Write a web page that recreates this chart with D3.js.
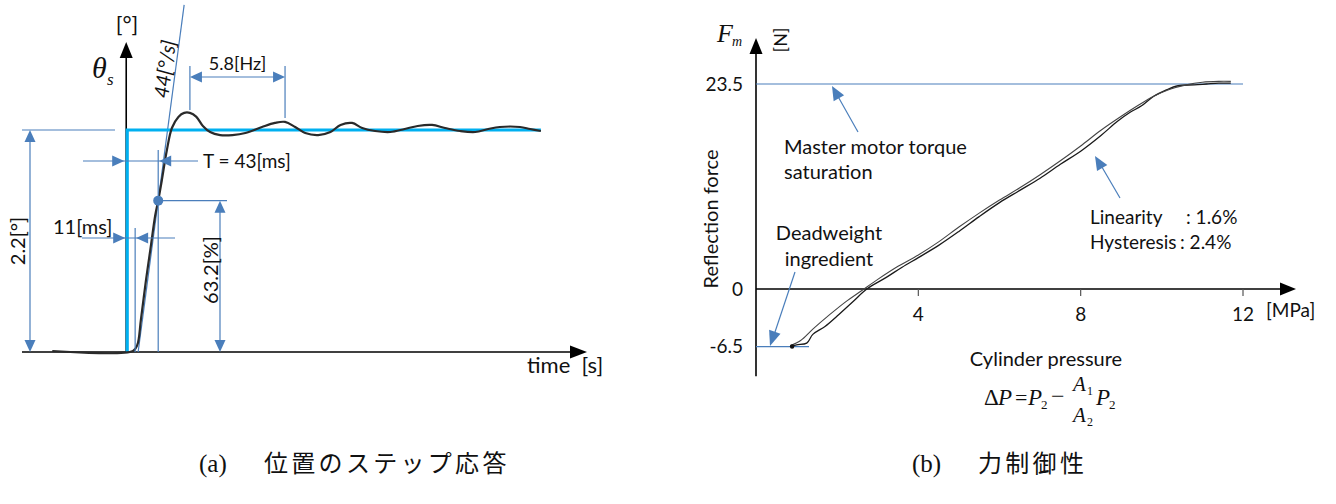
<!DOCTYPE html>
<html>
<head>
<meta charset="utf-8">
<script src="https://cdn.jsdelivr.net/npm/d3@7"></script>
<style>
  body { margin: 0; background: #fff; }
  text { font-family: Lato, "Open Sans", sans-serif; fill: #111; }
  text.serif { font-family: "Liberation Serif", "DejaVu Serif", serif; font-style: italic; }
  text.upright { font-style: normal; }
</style>
</head>
<body>
<div id="chart"></div>
<script>
/* (a) step response of position, (b) force control */

// ---- data: (a) step response ----
const respTime  = [-104, 8, 14, 19, 26, 32, 39, 43, 48, 55, 62, 71, 79, 87, 96, 105, 115, 129, 146, 164, 187, 205, 219, 233, 247, 265, 282, 296, 312, 326, 344, 365, 385, 403, 423, 441, 462, 483, 501, 517, 545, 559, 574];
const respAngle = [0.01, 0.01, 0.07, 0.32, 0.71, 1.01, 1.36, 1.50, 1.70, 2.00, 2.22, 2.33, 2.37, 2.37, 2.33, 2.24, 2.18, 2.15, 2.15, 2.17, 2.23, 2.27, 2.28, 2.23, 2.17, 2.15, 2.18, 2.25, 2.27, 2.22, 2.19, 2.18, 2.21, 2.24, 2.25, 2.22, 2.19, 2.18, 2.21, 2.23, 2.23, 2.21, 2.19];
const stepTime  = [0, 0, 574];
const stepAngle = [0, 2.2, 2.2];
const deadTime = 11, timeConst = 43, dotAngle = 1.5;   // [ms], [ms], [deg] as drawn
const hzPeaks = [87, 219];                              // peaks used for 5.8 Hz marker

// ---- data: (b) force vs cylinder pressure ----
const pressUp  = [0.84, 1.0, 1.25, 1.4, 1.7, 2.0, 2.4, 2.73, 3.2, 3.6, 4.0, 4.5, 5.0, 5.5, 6.0, 6.5, 7.0, 7.5, 8.0, 8.5, 8.9, 9.2, 9.5, 9.8, 10.1, 10.4, 10.8, 11.1, 11.4, 11.7];
const forceUp  = [-6.6, -6.4, -6.2, -5.2, -4.3, -3.1, -1.4, 0.0, 1.3, 2.5, 3.6, 5.0, 6.6, 8.3, 9.9, 11.3, 12.7, 14.3, 15.8, 17.6, 19.2, 20.2, 21.0, 22.1, 22.8, 23.3, 23.4, 23.5, 23.6, 23.6];
const pressDown = [11.7, 11.4, 11.0, 10.6, 10.2, 9.8, 9.4, 9.0, 8.5, 8.0, 7.5, 7.0, 6.5, 6.0, 5.5, 5.0, 4.5, 4.0, 3.5, 3.0, 2.6, 2.2, 1.8, 1.4, 1.1, 0.84];
const forceDown = [23.8, 23.8, 23.7, 23.4, 22.9, 22.1, 21.0, 19.8, 18.2, 16.4, 14.7, 13.1, 11.6, 10.2, 8.7, 7.1, 5.4, 3.9, 2.6, 1.1, -0.2, -1.5, -3.0, -4.6, -5.9, -6.5];
const pressTicks = [4, 8, 12];
const forceTicks = [23.5, 0, -6.5];
const forceMax = 23.5, forceDead = -6.5;

const width = 1336, height = 504;
const blue = "#4a7ebb", cyan = "#00b0f0";

const svg = d3.select("#chart").append("svg")
    .attr("width", width).attr("height", height);
svg.append("rect").attr("width", width).attr("height", height).attr("fill", "#fff");

// triangle with its tip at (x,y), pointing at angle a (deg, 0 = right)
function head(g, x, y, a, len, wid, col) {
    const r = a * Math.PI / 180;
    const bx = x - len * Math.cos(r), by = y - len * Math.sin(r);
    const px = -Math.sin(r) * wid / 2, py = Math.cos(r) * wid / 2;
    g.append("path")
        .attr("d", `M${x},${y}L${bx + px},${by + py}L${bx - px},${by - py}Z`)
        .attr("fill", col);
}
function line(g, x1, y1, x2, y2, col, w) {
    g.append("line").attr("x1", x1).attr("y1", y1).attr("x2", x2).attr("y2", y2)
        .attr("stroke", col).attr("stroke-width", w || 1.2);
}
function math(g, x, y, size, str, upright) {
    g.append("text").attr("class", upright ? "serif upright" : "serif")
        .attr("x", x).attr("y", y).attr("font-size", size).text(str);
}

// ================= (a) =================
const ga = svg.append("g");
const x = d3.scaleLinear().domain([-146, 638]).range([22, 587]);
const y = d3.scaleLinear().domain([0, 2.2]).range([352, 130]);

// axes
line(ga, x(-146), y(0), x(620), y(0), "#000", 1.6);
head(ga, x(638), y(0), 0, 17, 13, "#000");
line(ga, x(0) - 1, y(0), x(0) - 1, 56, "#000", 1.6);
head(ga, x(0) - 1, 42, -90, 16, 13, "#000");

// tangent line 44 deg/s through the 63.2% point
const slope = (3.44 - dotAngle) / (79 - timeConst);
const t0 = timeConst - dotAngle / slope;
line(ga, x(t0), y(0), x(79), y(3.44), blue, 1.2);

// step reference
ga.append("path")
    .attr("d", d3.line().x((d, i) => x(stepTime[i])).y(d => y(d))(stepAngle))
    .attr("fill", "none").attr("stroke", cyan).attr("stroke-width", 3.2);

// response
ga.append("path")
    .attr("d", d3.line().curve(d3.curveCatmullRom).x((d, i) => x(respTime[i])).y(d => y(d))(respAngle))
    .attr("fill", "none").attr("stroke", "#2a2a2a").attr("stroke-width", 2.2);

// 2.2 dimension
line(ga, 22, y(2.2), 115, y(2.2), blue);
line(ga, 30, y(2.2) + 8, 30, y(0) - 8, blue);
head(ga, 30, y(2.2), -90, 12, 11, blue);
head(ga, 30, y(0), 90, 12, 11, blue);
ga.append("text").attr("transform", `translate(25,${(y(0) + y(2.2)) / 2}) rotate(-90)`)
    .attr("text-anchor", "middle").attr("font-size", 20).text("2.2[°]");

// 63.2 dimension
const dotY = y(dotAngle);
line(ga, x(timeConst), dotY, 227, dotY, blue);
line(ga, 220, dotY + 8, 220, y(0) - 8, blue);
head(ga, 220, dotY, -90, 12, 11, blue);
head(ga, 220, y(0), 90, 12, 11, blue);
ga.append("text").attr("transform", `translate(218,270) rotate(-90)`)
    .attr("text-anchor", "middle").attr("font-size", 20).text("63.2[%]");

// T = 43 ms
line(ga, x(timeConst), 150, x(timeConst), y(0), blue);
line(ga, 83, 161, 198, 161, blue);
head(ga, x(0) - 3, 161, 0, 12, 11, blue);
head(ga, x(timeConst) + 1, 161, 180, 12, 11, blue);
ga.append("text").attr("x", 203).attr("y", 168).attr("font-size", 19).text("T = 43[ms]");

// dead time 11 ms
line(ga, x(deadTime), 228, x(deadTime), y(0), blue);
line(ga, 82, 238, 175, 238, blue);
head(ga, x(0) - 2, 238, 0, 12, 11, blue);
head(ga, x(deadTime) + 1, 238, 180, 12, 11, blue);
ga.append("text").attr("x", 53).attr("y", 234).attr("font-size", 20).text("11[ms]");

// 63.2% point
ga.append("circle").attr("cx", x(timeConst)).attr("cy", dotY).attr("r", 5).attr("fill", blue);

// 5.8 Hz
const hx0 = x(hzPeaks[0]), hx1 = x(hzPeaks[1]);
line(ga, hx0, 66, hx0, 110, blue);
line(ga, hx1, 66, hx1, 118, blue);
line(ga, hx0 + 8, 77, hx1 - 8, 77, blue);
head(ga, hx0, 77, 180, 12, 11, blue);
head(ga, hx1, 77, 0, 12, 11, blue);
ga.append("text").attr("x", (hx0 + hx1) / 2).attr("y", 70).attr("text-anchor", "middle")
    .attr("font-size", 18).text("5.8[Hz]");

// labels
ga.append("text").attr("transform", "translate(172,70) rotate(-82)")
    .attr("text-anchor", "middle").attr("font-size", 20).attr("font-style", "italic").text("44[°/s]");
ga.append("text").attr("x", 127).attr("y", 32).attr("text-anchor", "middle").attr("font-size", 22).text("[°]");
math(ga, 92, 78, 30, "θ");
math(ga, 107, 85, 17, "s");
ga.append("text").attr("x", 527).attr("y", 373).attr("font-size", 22).attr("xml:space", "preserve").text("time  [s]");

// ================= (b) =================
const gb = svg.append("g");
const px = d3.scaleLinear().domain([0, 12]).range([756, 1243]);
const fy = d3.scaleLinear().domain([0, 23.5]).range([289, 84]);

// axes
line(gb, px(0), fy(-10), px(0), 52, "#000", 1.6);
head(gb, px(0), 38, -90, 16, 13, "#000");
line(gb, px(0), fy(0), 1282, fy(0), "#000", 1.6);
head(gb, 1296, fy(0), 0, 16, 13, "#000");

gb.selectAll(".xt").data(pressTicks).join("line")
    .attr("x1", d => px(d)).attr("x2", d => px(d))
    .attr("y1", fy(0)).attr("y2", fy(0) + 7)
    .attr("stroke", "#555").attr("stroke-width", 1.2);
gb.selectAll(".xl").data(pressTicks).join("text")
    .attr("x", d => px(d)).attr("y", 321).attr("text-anchor", "middle")
    .attr("font-size", 19).text(d => d);
gb.selectAll(".yl").data(forceTicks).join("text")
    .attr("x", 743).attr("y", d => fy(d) + 7).attr("text-anchor", "end")
    .attr("font-size", 19).text(d => d);

// saturation & deadweight lines
line(gb, px(0), fy(forceMax), px(12), fy(forceMax), blue, 1.2);
line(gb, px(0), fy(forceDead) + 1, 809, fy(forceDead) + 1, blue, 1.2);

// hysteresis curve
const fl = d3.line().curve(d3.curveCatmullRom);
gb.append("path")
    .attr("d", fl(pressUp.map((p, i) => [px(p), fy(forceUp[i])])))
    .attr("fill", "none").attr("stroke", "#1a1a1a").attr("stroke-width", 1.3);
gb.append("path")
    .attr("d", fl(pressDown.map((p, i) => [px(p), fy(forceDown[i])])))
    .attr("fill", "none").attr("stroke", "#444").attr("stroke-width", 1.1);
gb.append("circle").attr("cx", px(pressUp[0]) + 2).attr("cy", fy(forceUp[0])).attr("r", 2.2).attr("fill", "#111");

// callout arrows
line(gb, 858, 132, 836, 93, blue, 1.2);
head(gb, 832, 86, Math.atan2(86 - 132, 832 - 858) * 180 / Math.PI, 14, 12, blue);
line(gb, 1120, 198, 1099, 162, blue, 1.2);
head(gb, 1095, 156, Math.atan2(156 - 198, 1095 - 1120) * 180 / Math.PI, 14, 12, blue);
line(gb, 795, 272, 773, 338, blue, 1.2);
head(gb, 770, 346, Math.atan2(346 - 272, 770 - 795) * 180 / Math.PI, 15, 12, blue);

// text
gb.append("text").attr("x", 784).attr("y", 154).attr("font-size", 20).text("Master motor torque");
gb.append("text").attr("x", 784).attr("y", 179).attr("font-size", 20).text("saturation");
gb.append("text").attr("x", 829).attr("y", 240).attr("text-anchor", "middle").attr("font-size", 20).text("Deadweight");
gb.append("text").attr("x", 829).attr("y", 266).attr("text-anchor", "middle").attr("font-size", 20).text("ingredient");
gb.append("text").attr("x", 1090).attr("y", 224).attr("font-size", 19).text("Linearity");
gb.append("text").attr("x", 1186).attr("y", 224).attr("font-size", 19).text(": 1.6%");
gb.append("text").attr("x", 1090).attr("y", 249).attr("font-size", 19).text("Hysteresis");
gb.append("text").attr("x", 1180).attr("y", 249).attr("font-size", 19).text(": 2.4%");
gb.append("text").attr("transform", "translate(718,219) rotate(-90)")
    .attr("text-anchor", "middle").attr("font-size", 20).text("Reflection force");
gb.append("text").attr("transform", "translate(787,40) rotate(-90)")
    .attr("text-anchor", "middle").attr("font-size", 18).text("[N]");
math(gb, 717, 42, 26, "F");
math(gb, 732, 46, 14, "m");
gb.append("text").attr("x", 1266).attr("y", 317).attr("font-size", 19).text("[MPa]");
gb.append("text").attr("x", 1046).attr("y", 366).attr("text-anchor", "middle").attr("font-size", 20).text("Cylinder pressure");

// formula  ΔP = P2 − (A1/A2) P2
const fs = svg.append("g");
math(fs, 984, 405, 23, "Δ", true);
math(fs, 998, 405, 23, "P");
math(fs, 1015, 405, 22, "=", true);
math(fs, 1028, 405, 23, "P");
math(fs, 1041, 409, 13, "2", true);
math(fs, 1051, 404, 24, "−", true);
math(fs, 1073, 391, 21, "A");
math(fs, 1087, 395, 12, "1", true);
math(fs, 1073, 422, 21, "A");
math(fs, 1087, 426, 12, "2", true);
math(fs, 1096, 405, 23, "P");
math(fs, 1109, 409, 13, "2", true);

// captions
const cap = svg.append("g");
cap.append("text").attr("x", 199).attr("y", 472).attr("font-size", 25)
    .style("font-family", "'Liberation Serif', serif").text("(a)");
cap.append("text").attr("x", 264).attr("y", 472).attr("font-size", 24).attr("letter-spacing", 3.3)
    .style("font-family", "'Noto Sans CJK JP', sans-serif").text("位置のステップ応答");
cap.append("text").attr("x", 912).attr("y", 472).attr("font-size", 25)
    .style("font-family", "'Liberation Serif', serif").text("(b)");
cap.append("text").attr("x", 978).attr("y", 472).attr("font-size", 24).attr("letter-spacing", 3.3)
    .style("font-family", "'Noto Sans CJK JP', sans-serif").text("力制御性");
</script>
</body>
</html>
